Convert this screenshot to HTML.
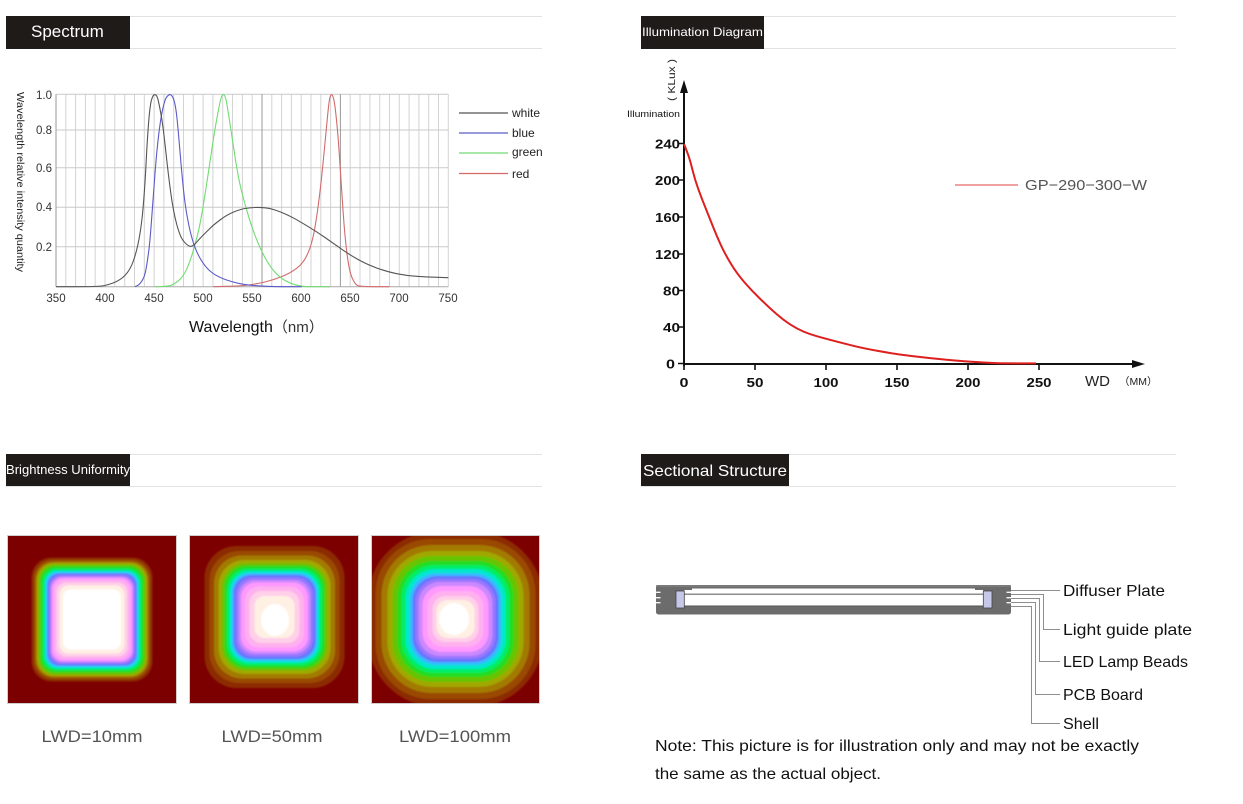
<!DOCTYPE html>
<html><head><meta charset="utf-8">
<style>
html,body{margin:0;padding:0;background:#fff;}
svg{display:block;}
</style></head>
<body>
<svg width="1243" height="804" viewBox="0 0 1243 804" xmlns="http://www.w3.org/2000/svg" font-family="'Liberation Sans', Arial, sans-serif">
<defs>
<clipPath id="c1"><rect x="7" y="535" width="170" height="169"/></clipPath>
<clipPath id="c2"><rect x="189" y="535" width="170" height="169"/></clipPath>
<clipPath id="c3"><rect x="371" y="535" width="169" height="169"/></clipPath>
<filter id="bl" x="-5%" y="-5%" width="110%" height="110%"><feGaussianBlur stdDeviation="0.8"/></filter>
</defs>

<!-- ===== Section headers ===== -->
<g>
<line x1="6" y1="16.5" x2="542" y2="16.5" stroke="#e2e2e2"/>
<line x1="6" y1="48.5" x2="542" y2="48.5" stroke="#e2e2e2"/>
<rect x="6" y="16" width="124" height="33" fill="#1f1b19"/>
<text x="31" y="37" fill="#fff" font-size="17">Spectrum</text>

<line x1="641" y1="16.5" x2="1176" y2="16.5" stroke="#e2e2e2"/>
<line x1="641" y1="48.5" x2="1176" y2="48.5" stroke="#e2e2e2"/>
<rect x="641" y="16" width="123" height="33" fill="#1f1b19"/>
<text x="642" y="36" fill="#fff" font-size="12" textLength="121" lengthAdjust="spacingAndGlyphs">Illumination Diagram</text>

<line x1="6" y1="454.5" x2="542" y2="454.5" stroke="#e2e2e2"/>
<line x1="6" y1="486.5" x2="542" y2="486.5" stroke="#e2e2e2"/>
<rect x="6" y="454" width="124" height="32" fill="#1f1b19"/>
<text x="6" y="474" fill="#fff" font-size="12.5" textLength="124" lengthAdjust="spacingAndGlyphs">Brightness Uniformity</text>

<line x1="641" y1="454.5" x2="1176" y2="454.5" stroke="#e2e2e2"/>
<line x1="641" y1="486.5" x2="1176" y2="486.5" stroke="#e2e2e2"/>
<rect x="641" y="454" width="148" height="32" fill="#1f1b19"/>
<text x="643" y="476" fill="#fff" font-size="16" textLength="144" lengthAdjust="spacingAndGlyphs">Sectional Structure</text>
</g>

<!-- ===== Spectrum chart ===== -->
<g>
<path d="M65.8 94.3V286.7M75.6 94.3V286.7M85.4 94.3V286.7M95.2 94.3V286.7M105 94.3V286.7M114.8 94.3V286.7M124.7 94.3V286.7M134.5 94.3V286.7M144.3 94.3V286.7M154.1 94.3V286.7M163.9 94.3V286.7M173.7 94.3V286.7M183.5 94.3V286.7M193.3 94.3V286.7M203.1 94.3V286.7M212.9 94.3V286.7M222.7 94.3V286.7M232.5 94.3V286.7M242.4 94.3V286.7M252.2 94.3V286.7M271.8 94.3V286.7M281.6 94.3V286.7M291.4 94.3V286.7M301.2 94.3V286.7M311 94.3V286.7M320.8 94.3V286.7M330.6 94.3V286.7M350.2 94.3V286.7M360 94.3V286.7M369.9 94.3V286.7M379.7 94.3V286.7M389.5 94.3V286.7M399.3 94.3V286.7M409.1 94.3V286.7M418.9 94.3V286.7M428.7 94.3V286.7M438.5 94.3V286.7M448.3 94.3V286.7" stroke="#d3d3d3" stroke-width="1" fill="none"/>
<path d="M56 94.3H448.3M56 130H448.3M56 167.7H448.3M56 207.3H448.3M56 246.7H448.3" stroke="#cacaca" stroke-width="1" fill="none"/>
<path d="M262 94.3V286.7M340.4 94.3V286.7M56 94.3V286.7" stroke="#9a9a9a" stroke-width="1" fill="none"/>
<line x1="56" y1="286.7" x2="448.3" y2="286.7" stroke="#a8a8a8"/>

<g transform="translate(40,85) scale(0.333333)" fill="none" stroke-linejoin="round">
<path vector-effect="non-scaling-stroke" stroke-width="1.1" stroke="#d26a6a" d="M520,605 L560,604 Q600,603 625,600 Q650,597 675,591 Q700,585 725,575 Q750,565 770,550 Q790,535 802.5,507.5 Q815,480 822.5,440 Q830,400 837.5,340 Q845,280 851.5,210 Q858,140 862.5,95 Q867,50 869,41 Q871,32 873,30 Q875,28 877,30.5 Q879,33 882,46.5 Q885,60 890,110 Q895,160 900,240 Q905,320 910,390 Q915,460 921.5,510 Q928,560 936.5,579 Q945,598 952.5,601.5 Q960,605 1004,605 L1048,605"/>
<path vector-effect="non-scaling-stroke" stroke-width="1.1" stroke="#70dc70" d="M345,605 L362.5,604.5 Q380,604 390,602 Q400,600 415,587.5 Q430,575 440,552.5 Q450,530 457.5,505 Q465,480 472.5,450 Q480,420 487.5,375 Q495,330 502.5,280 Q510,230 517.5,180 Q525,130 532.5,90 Q540,50 543,40.5 Q546,31 548,29.5 Q550,28 552,29.5 Q554,31 557,40.5 Q560,50 567.5,100 Q575,150 585,215 Q595,280 605,320 Q615,360 627.5,400 Q640,440 652.5,470 Q665,500 677.5,522.5 Q690,545 705,561.5 Q720,578 735,586.5 Q750,595 765,599 Q780,603 790,604 Q800,605 835,605 L870,605"/>
<path vector-effect="non-scaling-stroke" stroke-width="1.1" stroke="#5a5ac8" d="M285,605 L290,603 Q295,601 300,595.5 Q305,590 310,580 Q315,570 318.5,550 Q322,530 326,500 Q330,470 335,400 Q340,330 345,265 Q350,200 356,150 Q362,100 368.5,71 Q375,42 380,36 Q385,30 388.5,29 Q392,28 396,33 Q400,38 404,54 Q408,70 411.5,105 Q415,140 420,200 Q425,260 430,310 Q435,360 442.5,400 Q450,440 457.5,465 Q465,490 475,510 Q485,530 497.5,545 Q510,560 525,569 Q540,578 560,585 Q580,592 600,596 Q620,600 640,601.5 Q660,603 680,604 Q700,605 742.5,605 L785,605"/>
<path vector-effect="non-scaling-stroke" stroke-width="1.1" stroke="#555" d="M48,605 L109,605 Q170,605 185,603 Q200,601 220,593.5 Q240,586 255,571 Q270,556 280,528 Q290,500 297.5,460 Q305,420 310,360 Q315,300 318.5,230 Q322,160 326,111 Q330,62 334,47 Q338,32 341.5,30 Q345,28 348.5,31 Q352,34 356,52 Q360,70 365,100 Q370,130 377.5,200 Q385,270 392.5,325 Q400,380 410,417.5 Q420,455 430,467.5 Q440,480 447.5,483 Q455,486 462.5,479 Q470,472 475,466 Q480,460 490,450 Q500,440 510,430 Q520,420 540,405 Q560,390 580,381.5 Q600,373 615,370.5 Q630,368 645,367.5 Q660,367 675,368.5 Q690,370 705,375 Q720,380 735,386.5 Q750,393 765,401.5 Q780,410 805,425 Q830,440 855,457.5 Q880,475 905,492.5 Q930,510 955,524 Q980,538 1010,549 Q1040,560 1070,566 Q1100,572 1130,574 Q1160,576 1192.5,577 L1225,578"/>
</g>

<g font-size="11.5" fill="#333" text-anchor="end">
<text x="52" y="99">1.0</text>
<text x="52" y="134">0.8</text>
<text x="52" y="172">0.6</text>
<text x="52" y="211">0.4</text>
<text x="52" y="251">0.2</text>
</g>
<g font-size="11.5" fill="#333" text-anchor="middle">
<text x="56" y="302">350</text>
<text x="105" y="302">400</text>
<text x="154" y="302">450</text>
<text x="203" y="302">500</text>
<text x="252" y="302">550</text>
<text x="301" y="302">600</text>
<text x="350" y="302">650</text>
<text x="399" y="302">700</text>
<text x="448" y="302">750</text>
</g>
<text transform="translate(17,92) rotate(90)" font-size="10" fill="#222" textLength="180" lengthAdjust="spacingAndGlyphs">Wavelength relative intensity quantity</text>

<g stroke-width="1.2">
<line x1="459" y1="113" x2="508" y2="113" stroke="#555"/>
<line x1="459" y1="133" x2="508" y2="133" stroke="#5a5ac8"/>
<line x1="459" y1="153" x2="508" y2="153" stroke="#70dc70"/>
<line x1="459" y1="173.5" x2="508" y2="173.5" stroke="#d26a6a"/>
</g>
<g font-size="12" fill="#222">
<text x="512" y="117">white</text>
<text x="512" y="137">blue</text>
<text x="512" y="156">green</text>
<text x="512" y="178">red</text>
</g>
<text x="189" y="332" font-size="16" fill="#111">Wavelength<tspan font-size="15" font-family="'Liberation Sans','Noto Sans CJK SC',sans-serif" fill="#333">（nm）</tspan></text>
</g>

<!-- ===== Illumination chart ===== -->
<g>
<line x1="684" y1="366" x2="684" y2="88" stroke="#111" stroke-width="2"/>
<polygon points="684,80 680,93 688,93" fill="#111"/>
<line x1="683" y1="364" x2="1136" y2="364" stroke="#111" stroke-width="2"/>
<polygon points="1145,364 1132,360 1132,368" fill="#111"/>
<path d="M678 143.5H684M678 180H684M678 217H684M678 254H684M678 290.5H684M678 327H684M678 363.5H684" stroke="#111" stroke-width="1.6"/>
<path d="M684 364V370M755 364V370M826 364V370M897 364V370M968 364V370M1039 364V370" stroke="#111" stroke-width="1.6"/>
<g font-size="13" font-weight="bold" fill="#111" text-anchor="end">
<text x="680" y="148.5" textLength="25" lengthAdjust="spacingAndGlyphs">240</text>
<text x="680" y="185" textLength="25" lengthAdjust="spacingAndGlyphs">200</text>
<text x="680" y="222" textLength="25" lengthAdjust="spacingAndGlyphs">160</text>
<text x="680" y="259" textLength="25" lengthAdjust="spacingAndGlyphs">120</text>
<text x="680" y="295.5" textLength="17" lengthAdjust="spacingAndGlyphs">80</text>
<text x="680" y="332" textLength="17" lengthAdjust="spacingAndGlyphs">40</text>
<text x="675" y="368.5" textLength="9" lengthAdjust="spacingAndGlyphs">0</text>
</g>
<g font-size="13" font-weight="bold" fill="#111" text-anchor="middle">
<text x="684" y="387" textLength="9" lengthAdjust="spacingAndGlyphs">0</text>
<text x="755" y="387" textLength="17" lengthAdjust="spacingAndGlyphs">50</text>
<text x="826" y="387" textLength="25" lengthAdjust="spacingAndGlyphs">100</text>
<text x="897" y="387" textLength="25" lengthAdjust="spacingAndGlyphs">150</text>
<text x="968" y="387" textLength="25" lengthAdjust="spacingAndGlyphs">200</text>
<text x="1039" y="387" textLength="25" lengthAdjust="spacingAndGlyphs">250</text>
</g>
<text x="1085" y="386" font-size="15" fill="#222">WD</text>
<text x="1119" y="385" font-size="10.5" fill="#222" font-family="'Liberation Sans','Noto Sans CJK SC',sans-serif">（MM）</text>
<text x="627" y="117" font-size="9" fill="#111" textLength="53" lengthAdjust="spacingAndGlyphs">Illumination</text>
<text transform="translate(675,101) rotate(-90)" font-size="10" fill="#222" textLength="42" lengthAdjust="spacingAndGlyphs">( KLux )</text>

<g transform="translate(670,130) scale(0.333333)">
<path vector-effect="non-scaling-stroke" stroke-width="2" stroke="#dd1f1f" fill="none" stroke-linejoin="round" d="M42,42 L46,52 Q50,62 55,76 Q60,90 67.5,120 Q75,150 85,177.5 Q95,205 106.5,233.5 Q118,262 129,290 Q140,318 152.5,345 Q165,372 182.5,401 Q200,430 222.5,456 Q245,482 272.5,508.5 Q300,535 320,552.5 Q340,570 360,583 Q380,596 400,604.5 Q420,613 441.5,619 Q463,625 491.5,632.5 Q520,640 550,647.5 Q580,655 627.5,663.5 Q675,672 727.5,678.5 Q780,685 833.5,689.5 Q887,694 923.5,696.5 Q960,699 980,699.5 Q1000,700 1049,700 L1098,700"/>
</g>
<line x1="955" y1="185" x2="1018" y2="185" stroke="#e04040" stroke-width="1"/>
<text x="1025" y="190" font-size="15" fill="#555" textLength="122" lengthAdjust="spacingAndGlyphs">GP−290−300−W</text>
</g>

<!-- ===== Heatmaps ===== -->
<g clip-path="url(#c1)">
<rect x="7" y="535" width="170" height="169" fill="#7d0000"/>
<g filter="url(#bl)">
<rect x="31.5" y="557.5" width="121" height="124" rx="20" fill="#8c2a00"/>
<rect x="33.5" y="559.5" width="117" height="120" rx="19" fill="#9a4a00"/>
<rect x="35.5" y="561.5" width="113" height="116" rx="18" fill="#a37a00"/>
<rect x="37" y="563" width="110" height="113" rx="17" fill="#a0a800"/>
<rect x="38.5" y="564.5" width="107" height="110" rx="16" fill="#66c400"/>
<rect x="40.5" y="566.5" width="103" height="106" rx="15" fill="#22dd22"/>
<rect x="42.5" y="568.5" width="99" height="102" rx="14" fill="#00ee66"/>
<rect x="44.5" y="570.5" width="95" height="98" rx="13" fill="#00e8cc"/>
<rect x="46" y="572" width="92" height="95" rx="12" fill="#33bbff"/>
<rect x="47.5" y="573.5" width="89" height="92" rx="12" fill="#6677ff"/>
<rect x="49" y="575" width="86" height="89" rx="12" fill="#9977ff"/>
<rect x="50.5" y="576.5" width="83" height="86" rx="12" fill="#cc88ff"/>
<rect x="52" y="578" width="80" height="83" rx="11" fill="#ff99ff"/>
<rect x="54" y="580" width="76" height="79" rx="11" fill="#ffb0ee"/>
<rect x="56.5" y="582.5" width="71" height="74" rx="10" fill="#ffd0e8"/>
<rect x="59.5" y="585.5" width="65" height="68" rx="9" fill="#fff0e4"/>
<rect x="63" y="589.5" width="58" height="60" rx="8" fill="#ffffff"/>
</g>
</g>
<rect x="7.5" y="535.5" width="169" height="168" fill="none" stroke="#cfcfcf"/>

<g clip-path="url(#c2)">
<rect x="189" y="535" width="170" height="169" fill="#7d0000"/>
<g filter="url(#bl)">
<rect x="204.5" y="546" width="140" height="142" rx="32" fill="#8c2a00"/>
<rect x="209.5" y="551" width="130" height="132" rx="30" fill="#9a4a00"/>
<rect x="214" y="555.5" width="121" height="123" rx="28" fill="#a37a00"/>
<rect x="218.5" y="560" width="112" height="114" rx="26" fill="#a0a800"/>
<rect x="222" y="563.5" width="105" height="107" rx="24" fill="#66c400"/>
<rect x="224.5" y="566" width="100" height="102" rx="22" fill="#22dd22"/>
<rect x="227" y="568.5" width="95" height="97" rx="21" fill="#00ee66"/>
<rect x="229.5" y="571" width="90" height="92" rx="20" fill="#00e8cc"/>
<rect x="231.5" y="573" width="86" height="88" rx="19" fill="#33bbff"/>
<rect x="233.5" y="575" width="82" height="84" rx="18" fill="#6677ff"/>
<rect x="236" y="577.5" width="77" height="79" rx="17" fill="#9977ff"/>
<rect x="238.5" y="580" width="72" height="74" rx="16" fill="#cc88ff"/>
<rect x="241" y="582.5" width="67" height="69" rx="15" fill="#ff99ff"/>
<rect x="245" y="586.5" width="59" height="61" rx="14" fill="#ffb0ee"/>
<rect x="249.5" y="591" width="50" height="52" rx="12" fill="#ffd0e8"/>
<rect x="254.5" y="596" width="40" height="42" rx="10" fill="#fff0e4"/>
<ellipse cx="275" cy="620" rx="14" ry="16" fill="#ffffff"/>
</g>
</g>
<rect x="189.5" y="535.5" width="169" height="168" fill="none" stroke="#cfcfcf"/>

<g clip-path="url(#c3)">
<rect x="371" y="535" width="169" height="169" fill="#7d0000"/>
<g filter="url(#bl)">
<rect x="367.5" y="531" width="176" height="176" rx="70" fill="#8c2a00"/>
<rect x="375.5" y="539" width="160" height="160" rx="55" fill="#9a4a00"/>
<rect x="381.5" y="545" width="148" height="148" rx="50" fill="#a37a00"/>
<rect x="387.5" y="551" width="136" height="136" rx="45" fill="#a0a800"/>
<rect x="392.5" y="556" width="126" height="126" rx="40" fill="#66c400"/>
<rect x="397.5" y="561" width="116" height="116" rx="36" fill="#22dd22"/>
<rect x="401.5" y="565" width="108" height="108" rx="33" fill="#00ee66"/>
<rect x="405.5" y="569" width="100" height="100" rx="30" fill="#00e8cc"/>
<rect x="409.5" y="573" width="92" height="92" rx="27" fill="#33bbff"/>
<rect x="412.5" y="576" width="86" height="86" rx="25" fill="#6677ff"/>
<rect x="415.5" y="579" width="80" height="80" rx="23" fill="#9977ff"/>
<rect x="418.5" y="582" width="74" height="74" rx="21" fill="#cc88ff"/>
<rect x="422.5" y="586" width="66" height="66" rx="19" fill="#ff99ff"/>
<rect x="427.5" y="591" width="56" height="56" rx="16" fill="#ffb0ee"/>
<rect x="432.5" y="596" width="46" height="46" rx="13" fill="#ffd0e8"/>
<rect x="436.5" y="600" width="38" height="38" rx="11" fill="#fff0e4"/>
<ellipse cx="454" cy="619" rx="15" ry="16" fill="#ffffff"/>
</g>
</g>
<rect x="371.5" y="535.5" width="168" height="168" fill="none" stroke="#cfcfcf"/>

<g font-size="17" fill="#555" text-anchor="middle">
<text x="92" y="742" textLength="101" lengthAdjust="spacingAndGlyphs">LWD=10mm</text>
<text x="272" y="742" textLength="101" lengthAdjust="spacingAndGlyphs">LWD=50mm</text>
<text x="455" y="742" textLength="112" lengthAdjust="spacingAndGlyphs">LWD=100mm</text>
</g>

<!-- ===== Sectional structure ===== -->
<g>
<rect x="656" y="585" width="355" height="29.5" rx="2.5" fill="#6c6c6c"/>
<rect x="656" y="585" width="355" height="2" rx="1" fill="#7a7a7a"/>
<rect x="692" y="588.5" width="283" height="5" fill="#ffffff"/>
<line x1="684" y1="594.2" x2="983" y2="594.2" stroke="#9a9a9a" stroke-width="1.2"/>
<rect x="684.3" y="595" width="299" height="10.5" fill="#ffffff"/>
<line x1="684" y1="606" x2="983" y2="606" stroke="#555" stroke-width="1"/>
<rect x="684.3" y="590" width="8" height="3.5" fill="#ffffff"/>
<rect x="975" y="590" width="8.3" height="3.5" fill="#ffffff"/>
<rect x="676" y="591" width="8.3" height="17" fill="#c6c8ea" stroke="#444" stroke-width="0.8"/>
<rect x="983.3" y="591" width="8.7" height="17" fill="#c6c8ea" stroke="#444" stroke-width="0.8"/>
<path d="M656 592.3H660.5M656 597.7H660.5M656 602.7H660.5M1006.5 592.3H1011M1006.5 597.7H1011M1006.5 602.7H1011" stroke="#f4f4f4" stroke-width="1.3"/>

<g stroke="#8e8e8e" stroke-width="1" fill="none">
<path d="M1011 590.5H1060"/>
<path d="M1011 594.5H1043.5V629.5H1060"/>
<path d="M1011 598.5H1039.5V661.5H1060"/>
<path d="M1011 602.5H1035.5V694.5H1060"/>
<path d="M1011 606.5H1031.5V723.5H1060"/>
</g>
<g font-size="16" fill="#111">
<text x="1063" y="596" textLength="102" lengthAdjust="spacingAndGlyphs">Diffuser Plate</text>
<text x="1063" y="635" textLength="129" lengthAdjust="spacingAndGlyphs">Light guide plate</text>
<text x="1063" y="667" textLength="125" lengthAdjust="spacingAndGlyphs">LED Lamp Beads</text>
<text x="1063" y="700" textLength="80" lengthAdjust="spacingAndGlyphs">PCB Board</text>
<text x="1063" y="729" textLength="36" lengthAdjust="spacingAndGlyphs">Shell</text>
<text x="655" y="751" textLength="484" lengthAdjust="spacingAndGlyphs">Note: This picture is for illustration only and may not be exactly</text>
<text x="655" y="779" textLength="226" lengthAdjust="spacingAndGlyphs">the same as the actual object.</text>
</g>
</g>
</svg>
</body></html>
